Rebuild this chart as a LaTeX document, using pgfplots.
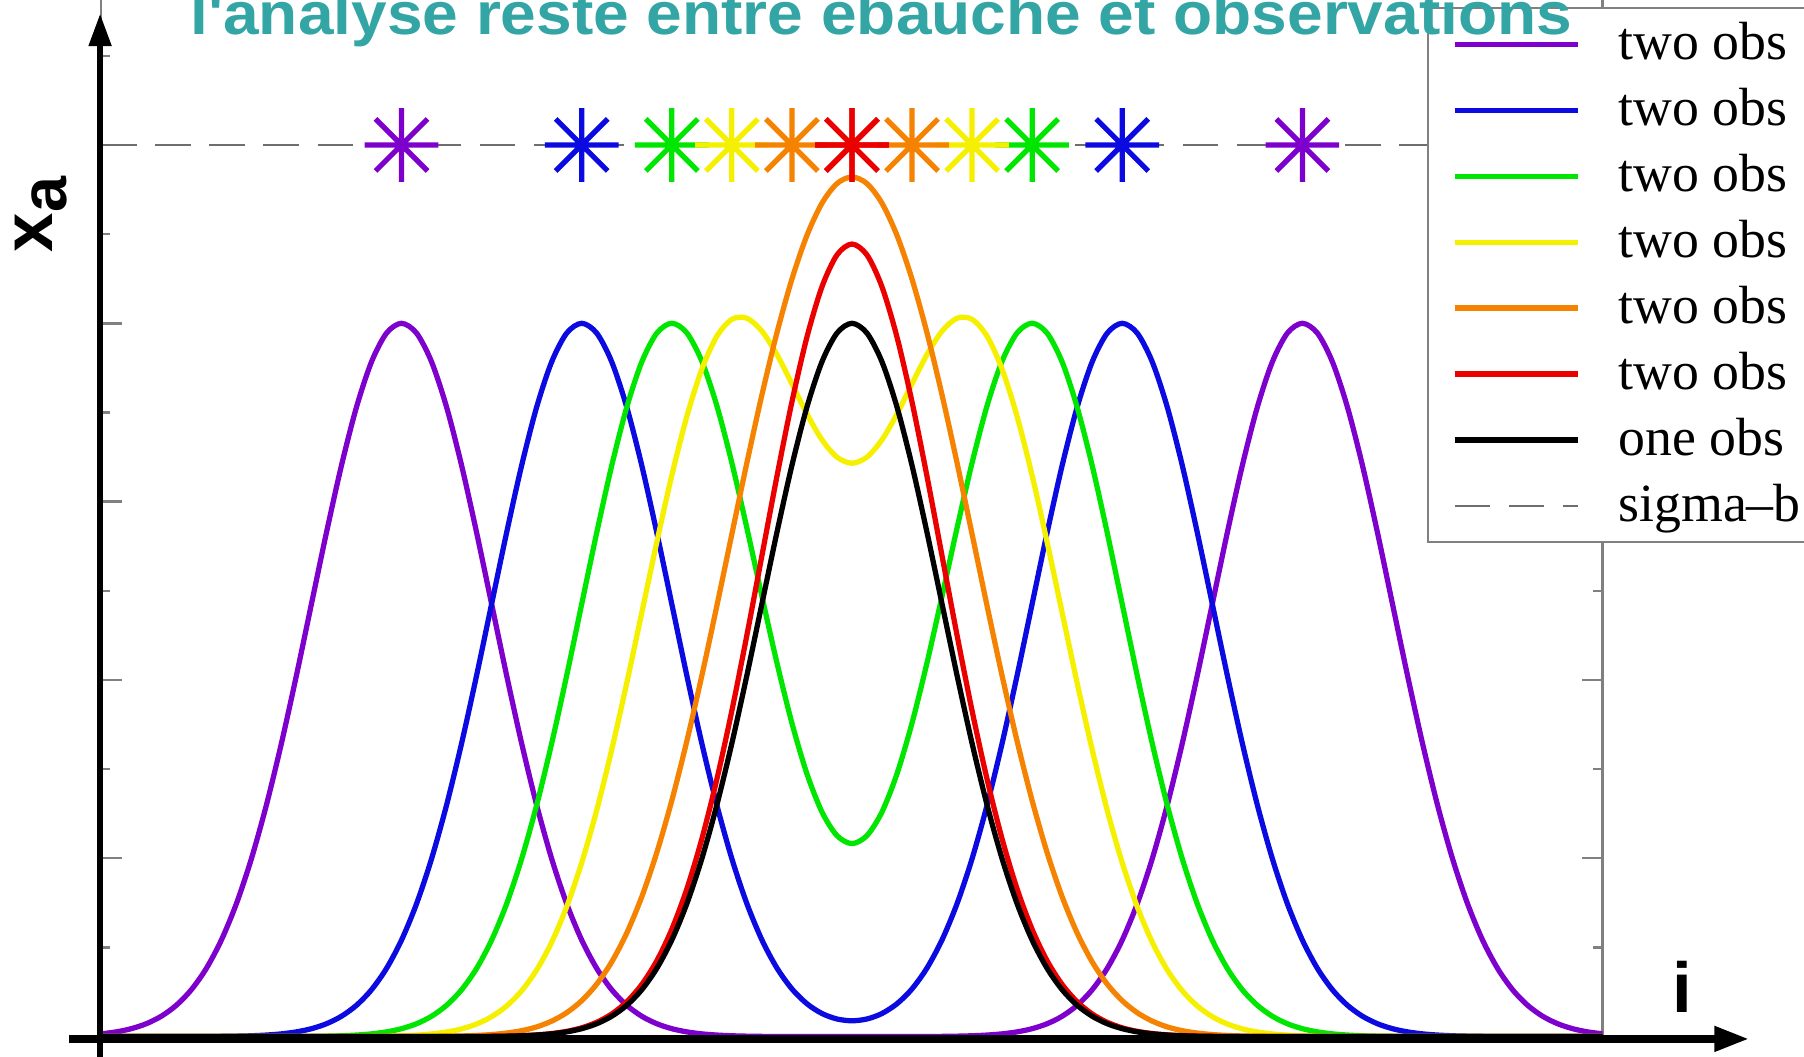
\documentclass[border=0pt]{standalone}
\usepackage{pgfplots}
\pgfplotsset{compat=1.18}
\usepackage{pgfplotstable}
\usepackage{graphicx}
\usepackage{fontspec}
\usetikzlibrary{arrows.meta}
\newfontfamily\sansf{Liberation Sans}
\newfontfamily\legfont{Liberation Serif}

\definecolor{cpu}{RGB}{125,0,205}
\definecolor{cbl}{RGB}{10,10,225}
\definecolor{cgr}{RGB}{0,230,0}
\definecolor{cye}{RGB}{245,240,0}
\definecolor{cor}{RGB}{245,130,0}
\definecolor{cre}{RGB}{235,0,0}
\definecolor{cdash}{RGB}{110,110,110}
\definecolor{cframe}{RGB}{128,128,128}
\definecolor{cteal}{RGB}{52,165,165}

\pgfdeclareplotmark{ast8}{%
  \pgfpathmoveto{\pgfqpoint{0pt}{\pgfplotmarksize}}%
  \pgfpathlineto{\pgfqpoint{0pt}{-\pgfplotmarksize}}%
  \pgfpathmoveto{\pgfqpoint{\pgfplotmarksize}{0pt}}%
  \pgfpathlineto{\pgfqpoint{-\pgfplotmarksize}{0pt}}%
  \pgfpathmoveto{\pgfqpoint{0.7071\pgfplotmarksize}{0.7071\pgfplotmarksize}}%
  \pgfpathlineto{\pgfqpoint{-0.7071\pgfplotmarksize}{-0.7071\pgfplotmarksize}}%
  \pgfpathmoveto{\pgfqpoint{0.7071\pgfplotmarksize}{-0.7071\pgfplotmarksize}}%
  \pgfpathlineto{\pgfqpoint{-0.7071\pgfplotmarksize}{0.7071\pgfplotmarksize}}%
  \pgfusepathqstroke
}

\pgfplotstableread{
i   pu      bl      gr      ye      or      re      bk
0   0.00309 0       0       0       0       0       0
1   0.00532 0       0       0       0       0       0
2   0.00889 0       0       0       0       0       0
3   0.01446 0       0       0       0       0       0
4   0.02286 0       0       0       0       0       0
5   0.03515 0       0       0       0       0       0
6   0.05258 0.00007 0       0       0       0       0
7   0.07650 0.00014 0       0       0       0       0
8   0.10827 0.00027 0       0       0       0       0
9   0.14902 0.00051 0       0       0       0       0
10  0.19948 0.00096 0       0       0       0       0
11  0.25972 0.00175 0       0       0       0       0
12  0.32889 0.00309 0.00007 0       0       0       0
13  0.40506 0.00532 0.00014 0       0       0       0
14  0.48522 0.00889 0.00027 0       0       0       0
15  0.56531 0.01446 0.00051 0       0       0       0
16  0.64059 0.02286 0.00096 0.00007 0       0       0
17  0.70600 0.03515 0.00175 0.00013 0       0       0
18  0.75677 0.05258 0.00310 0.00027 0       0       0
19  0.78897 0.07650 0.00532 0.00050 0       0       0
20  0.80000 0.10827 0.00889 0.00094 0.00005 0       0
21  0.78897 0.14902 0.01445 0.00171 0.00010 0       0
22  0.75677 0.19948 0.02285 0.00303 0.00020 0       0
23  0.70600 0.25972 0.03514 0.00520 0.00039 0       0
24  0.64059 0.32889 0.05256 0.00869 0.00072 0.00007 0.00007
25  0.56531 0.40506 0.07648 0.01413 0.00132 0.00015 0.00014
26  0.48522 0.48522 0.10824 0.02235 0.00233 0.00030 0.00027
27  0.40506 0.56531 0.14898 0.03437 0.00400 0.00057 0.00051
28  0.32889 0.64059 0.19943 0.05140 0.00669 0.00107 0.00096
29  0.25972 0.70600 0.25965 0.07479 0.01088 0.00194 0.00175
30  0.19948 0.75677 0.32880 0.10585 0.01740 0.00344 0.00309
31  0.14902 0.78897 0.40496 0.14569 0.02684 0.00591 0.00532
32  0.10827 0.80000 0.48510 0.19502 0.04029 0.00987 0.00889
33  0.07650 0.78897 0.56516 0.25391 0.05889 0.01606 0.01446
34  0.05258 0.75677 0.64042 0.32180 0.08381 0.02539 0.02286
35  0.03515 0.70600 0.70581 0.39651 0.11615 0.03906 0.03515
36  0.02286 0.64059 0.75663 0.47532 0.15680 0.05842 0.05258
37  0.01446 0.56531 0.78890 0.55439 0.20632 0.08500 0.07650
38  0.00889 0.48522 0.80006 0.62930 0.26469 0.12030 0.10827
39  0.00532 0.40506 0.78927 0.69542 0.33127 0.16558 0.14902
40  0.00309 0.32889 0.75753 0.74854 0.40470 0.22164 0.19948
41  0.00175 0.25972 0.70757 0.78547 0.48297 0.28858 0.25972
42  0.00096 0.19954 0.64352 0.80446 0.56353 0.36543 0.32889
43  0.00051 0.14916 0.57048 0.80570 0.64342 0.45007 0.40506
44  0.00027 0.10854 0.49398 0.79126 0.71959 0.53914 0.48522
45  0.00014 0.07702 0.41941 0.76502 0.78915 0.62812 0.56531
46  0.00007 0.05354 0.35165 0.73213 0.84950 0.71177 0.64059
47  0       0.03690 0.29479 0.69837 0.89852 0.78444 0.70600
48  0       0.02595 0.25199 0.66940 0.93462 0.84085 0.75677
49  0       0.01978 0.22547 0.64993 0.95668 0.87663 0.78897
50  0       0.01778 0.21649 0.64307 0.96411 0.88889 0.80000
51  0       0.01978 0.22547 0.64993 0.95668 0.87663 0.78897
52  0       0.02595 0.25199 0.66940 0.93462 0.84085 0.75677
53  0       0.03690 0.29479 0.69837 0.89852 0.78444 0.70600
54  0.00007 0.05354 0.35165 0.73213 0.84950 0.71177 0.64059
55  0.00014 0.07702 0.41941 0.76502 0.78915 0.62812 0.56531
56  0.00027 0.10854 0.49398 0.79126 0.71959 0.53914 0.48522
57  0.00051 0.14916 0.57048 0.80570 0.64342 0.45007 0.40506
58  0.00096 0.19954 0.64352 0.80446 0.56353 0.36543 0.32889
59  0.00175 0.25972 0.70757 0.78547 0.48297 0.28858 0.25972
60  0.00309 0.32889 0.75753 0.74854 0.40470 0.22164 0.19948
61  0.00532 0.40506 0.78927 0.69542 0.33127 0.16558 0.14902
62  0.00889 0.48522 0.80006 0.62930 0.26469 0.12030 0.10827
63  0.01446 0.56531 0.78890 0.55439 0.20632 0.08500 0.07650
64  0.02286 0.64059 0.75663 0.47532 0.15680 0.05842 0.05258
65  0.03515 0.70600 0.70581 0.39651 0.11615 0.03906 0.03515
66  0.05258 0.75677 0.64042 0.32180 0.08381 0.02539 0.02286
67  0.07650 0.78897 0.56516 0.25391 0.05889 0.01606 0.01446
68  0.10827 0.80000 0.48510 0.19502 0.04029 0.00987 0.00889
69  0.14902 0.78897 0.40496 0.14569 0.02684 0.00591 0.00532
70  0.19948 0.75677 0.32880 0.10585 0.01740 0.00344 0.00309
71  0.25972 0.70600 0.25965 0.07479 0.01088 0.00194 0.00175
72  0.32889 0.64059 0.19943 0.05140 0.00669 0.00107 0.00096
73  0.40506 0.56531 0.14898 0.03437 0.00400 0.00057 0.00051
74  0.48522 0.48522 0.10824 0.02235 0.00233 0.00030 0.00027
75  0.56531 0.40506 0.07648 0.01413 0.00132 0.00015 0.00014
76  0.64059 0.32889 0.05256 0.00869 0.00072 0.00007 0.00007
77  0.70600 0.25972 0.03514 0.00520 0.00039 0       0
78  0.75677 0.19948 0.02285 0.00303 0.00020 0       0
79  0.78897 0.14902 0.01445 0.00171 0.00010 0       0
80  0.80000 0.10827 0.00889 0.00094 0.00005 0       0
81  0.78897 0.07650 0.00532 0.00050 0       0       0
82  0.75677 0.05258 0.00310 0.00027 0       0       0
83  0.70600 0.03515 0.00175 0.00013 0       0       0
84  0.64059 0.02286 0.00096 0.00007 0       0       0
85  0.56531 0.01446 0.00051 0       0       0       0
86  0.48522 0.00889 0.00027 0       0       0       0
87  0.40506 0.00532 0.00014 0       0       0       0
88  0.32889 0.00309 0.00007 0       0       0       0
89  0.25972 0.00175 0       0       0       0       0
90  0.19948 0.00096 0       0       0       0       0
91  0.14902 0.00051 0       0       0       0       0
92  0.10827 0.00027 0       0       0       0       0
93  0.07650 0.00014 0       0       0       0       0
94  0.05258 0.00007 0       0       0       0       0
95  0.03515 0       0       0       0       0       0
96  0.02286 0       0       0       0       0       0
97  0.01446 0       0       0       0       0       0
98  0.00889 0       0       0       0       0       0
99  0.00532 0       0       0       0       0       0
100 0.00309 0       0       0       0       0       0
}\curves

\begin{document}
\begin{tikzpicture}
\begin{axis}[
  at={(0,0)}, anchor=south west,
  scale only axis, width=13.05cm, height=9.30cm,
  xmin=0, xmax=100, ymin=0, ymax=1.2,
  xtick=\empty,
  ytick={0,0.2,0.4,0.6,0.8,1.0,1.2},
  minor ytick={0.1,0.3,0.5,0.7,0.9,1.1},
  yticklabels={},
  major tick length=0.18cm, minor tick length=0.08cm,
  tick style={cframe, line width=0.6pt},
  axis line style={cframe, line width=0.6pt},
  legend cell align=left,
  legend image code/.code={\draw[#1] (0cm,0cm) -- (1.07cm,0cm);},
  legend style={at={(0.8828,0.9624)}, anchor=north west,
    draw=cframe, line width=0.6pt, fill=white,
    font=\legfont\fontsize{13.3}{14}\selectfont,
    inner xsep=2.1mm, inner ysep=2.5pt, column sep=3.3mm, row sep=3.3pt,
    nodes={inner sep=0pt, text height=10.3pt, text depth=2.7pt}},
  every axis plot/.append style={line width=1.3pt},
]
\addplot[cpu, no marks, smooth] table[x=i, y=pu] {\curves};
\addlegendentry{two obs}
\addplot[cbl, no marks, smooth] table[x=i, y=bl] {\curves};
\addlegendentry{two obs}
\addplot[cgr, no marks, smooth] table[x=i, y=gr] {\curves};
\addlegendentry{two obs}
\addplot[cye, no marks, smooth] table[x=i, y=ye] {\curves};
\addlegendentry{two obs}
\addplot[cor, no marks, smooth] table[x=i, y=or] {\curves};
\addlegendentry{two obs}
\addplot[cre, no marks, smooth] table[x=i, y=re] {\curves};
\addlegendentry{two obs}
\addplot[black, no marks, smooth] table[x=i, y=bk] {\curves};
\addlegendentry{one obs}
\addplot[cdash, no marks, line width=0.6pt, dash pattern=on 3.1mm off 1.6mm] coordinates {(0,1) (100,1)};
\addlegendentry{sigma–b}
% observations
\addplot[forget plot, only marks, mark=ast8, mark size=3.2mm, cpu, line width=1.3pt] coordinates {(20,1) (80,1)};
\addplot[forget plot, only marks, mark=ast8, mark size=3.2mm, cbl, line width=1.3pt] coordinates {(32,1) (68,1)};
\addplot[forget plot, only marks, mark=ast8, mark size=3.2mm, cgr, line width=1.3pt] coordinates {(38,1) (62,1)};
\addplot[forget plot, only marks, mark=ast8, mark size=3.2mm, cye, line width=1.3pt] coordinates {(42,1) (58,1)};
\addplot[forget plot, only marks, mark=ast8, mark size=3.2mm, cor, line width=1.3pt] coordinates {(46,1) (54,1)};
\addplot[forget plot, only marks, mark=ast8, mark size=3.2mm, cre, line width=1.3pt] coordinates {(50,1) (50,1)};
\end{axis}
% hand-drawn axes
\draw[black, line width=1.3pt, -{Triangle[length=2.8mm,width=1.9mm]}] (-0.01,-0.30) -- (-0.01,8.89);
\draw[black, line width=1.8pt, -{Triangle[length=3mm,width=2.1mm]}] (-0.28,-0.02) -- (14.32,-0.02);
% labels
\node[anchor=base, text=cteal, inner sep=0pt] at (6.78,8.71)
  {\scalebox{1.07}[1]{\sansf\bfseries\fontsize{14.8}{16}\selectfont l'analyse reste entre ébauche et observations}};
\node[rotate=90, anchor=base west, inner sep=0pt] at (-0.42,6.81)
  {\sansf\bfseries\fontsize{17.5}{18}\selectfont x\raisebox{-3.4pt}{\fontsize{16}{16}\selectfont a}};
\node[anchor=base, inner sep=0pt] at (13.74,0.21) {\sansf\bfseries\fontsize{17.5}{18}\selectfont i};
\pgfresetboundingbox
\path[use as bounding box] (-0.88,-0.17) rectangle (14.80,9.01);
\end{tikzpicture}
\end{document}
